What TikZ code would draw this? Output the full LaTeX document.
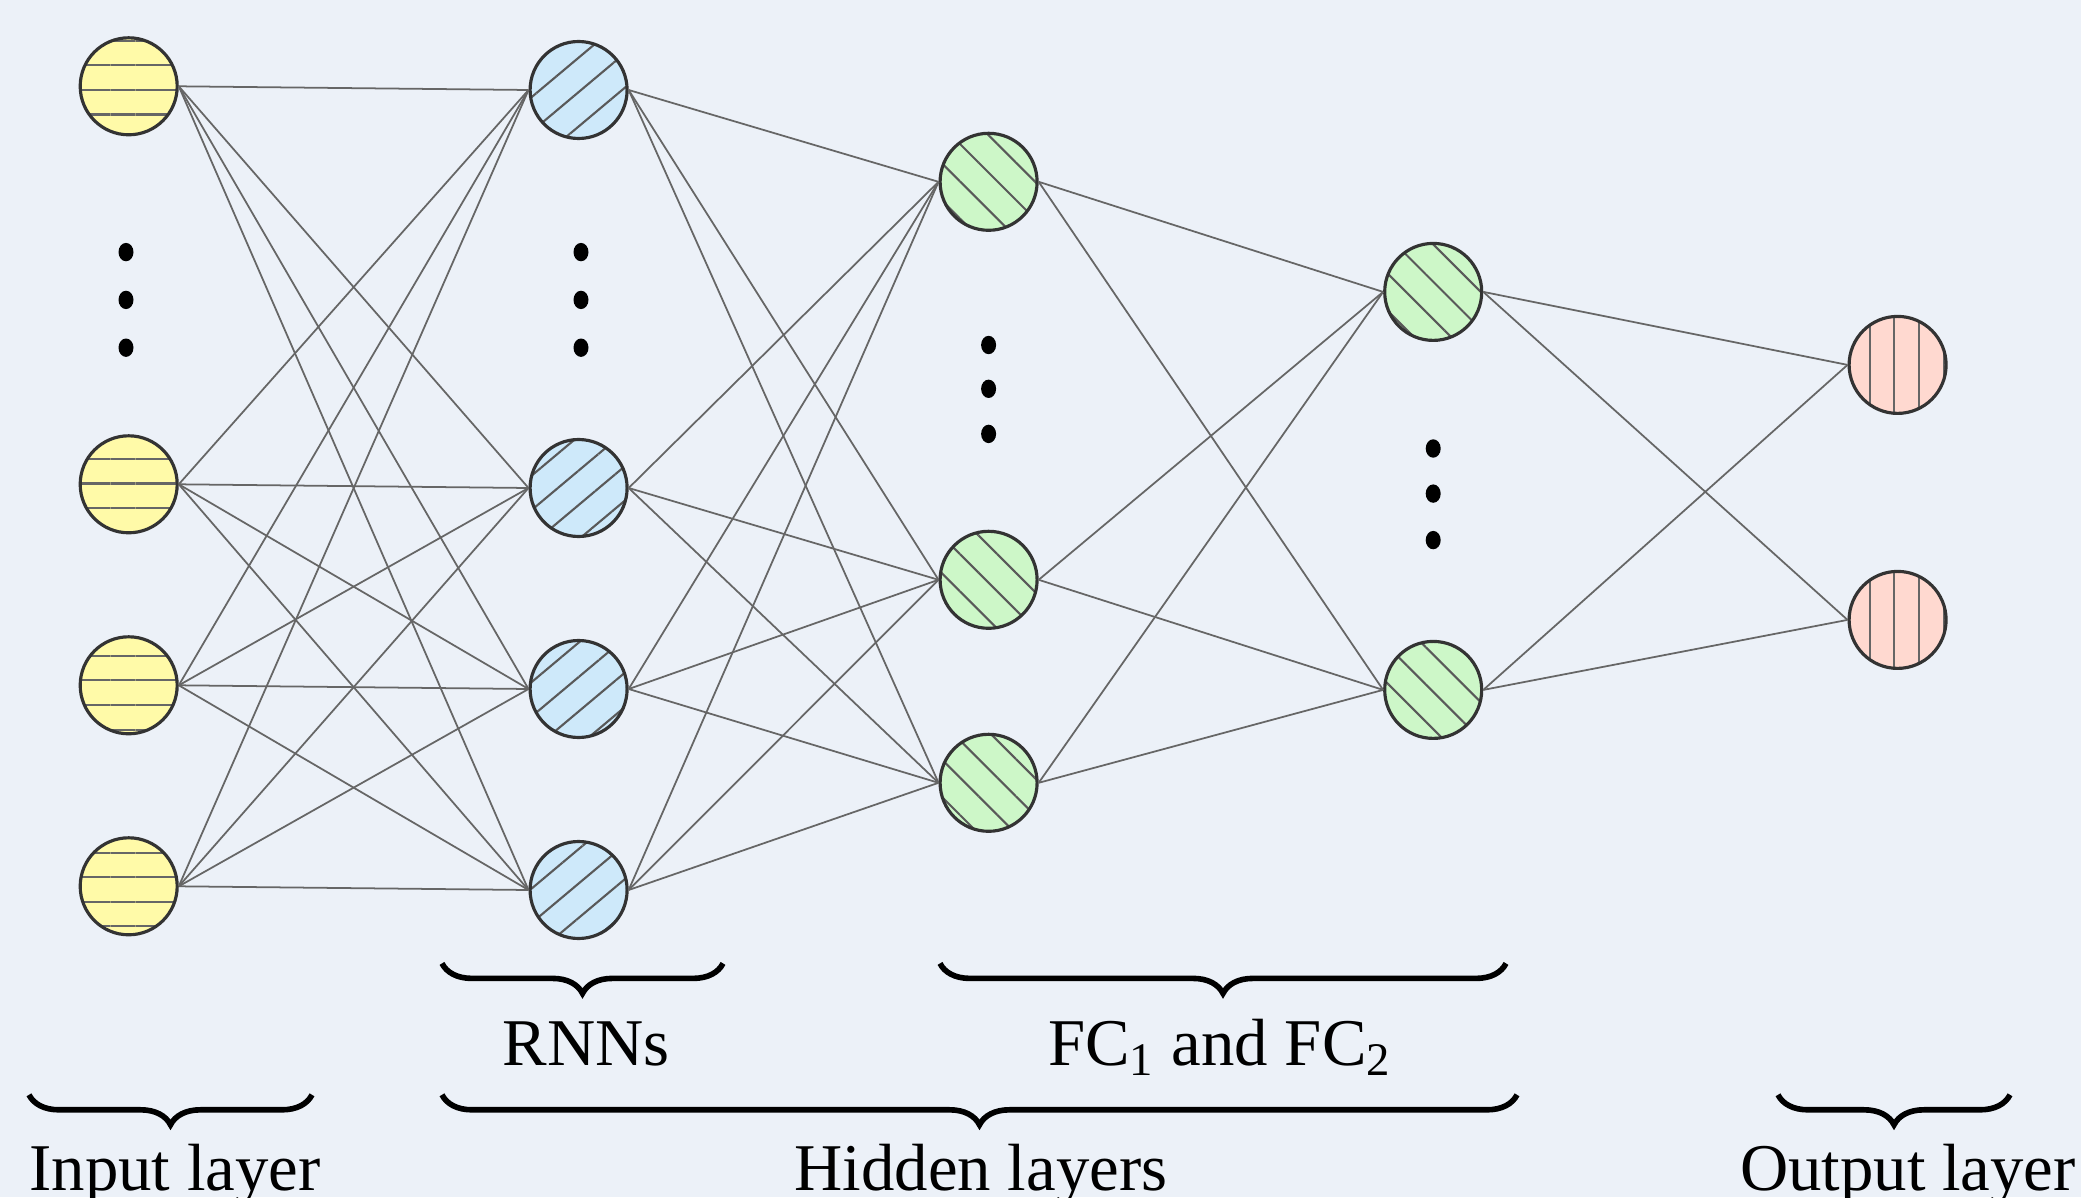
\documentclass[tikz,border=0pt]{standalone}
\usepackage{fontspec}
\setmainfont{Liberation Serif}
\usetikzlibrary{positioning,patterns.meta,decorations.pathreplacing}

\definecolor{bgcol}{RGB}{236,241,248}
\definecolor{inpcol}{RGB}{255,250,168}
\definecolor{rnncol}{RGB}{206,233,250}
\definecolor{fccol}{RGB}{205,247,200}
\definecolor{outcol}{RGB}{255,217,208}

\begin{document}
\begin{tikzpicture}[
    neuron/.style={circle, draw=black!80, line width=0.9pt, minimum size=0.97cm, inner sep=0pt},
    inp/.style={neuron, preaction={fill=inpcol},
      preaction={pattern={Lines[angle=0,distance=7pt,line width=0.6pt]}, pattern color=black!60}},
    rnn/.style={neuron, preaction={fill=rnncol},
      preaction={pattern={Lines[angle=40,distance=7.5pt,line width=0.6pt]}, pattern color=black!65}},
    fc/.style={neuron, preaction={fill=fccol},
      preaction={pattern={Lines[angle=-45,distance=7.5pt,line width=0.6pt]}, pattern color=black!65}},
    outp/.style={neuron, preaction={fill=outcol},
      preaction={pattern={Lines[angle=90,distance=7pt,line width=0.6pt]}, pattern color=black!60}},
    wire/.style={black!60, line width=0.5pt},
    brace/.style={decorate, decoration={brace, mirror, amplitude=0.3cm}, line width=1.6pt},
    lbl/.style={anchor=base, inner sep=0pt, font=\fontsize{19}{22}\selectfont},
    node distance=3.98cm, on grid
  ]
    \useasboundingbox[fill=bgcol] (0,0) rectangle (20.81,11.97);

    % input layer
    \node[inp] (i1) at (1.287,11.107) {};
    \node[inp, below=of i1] (i2) {};
    \node[inp, below=2.01cm of i2] (i3) {};
    \node[inp, below=2.01cm of i3] (i4) {};

    % recurrent layer
    \node[rnn] (r1) at (5.786,11.07) {};
    \node[rnn, below=of r1] (r2) {};
    \node[rnn, below=2.01cm of r2] (r3) {};
    \node[rnn, below=2.01cm of r3] (r4) {};

    % fully connected layers
    \node[fc] (f1) at (9.886,10.152) {};
    \node[fc, below=of f1] (f2) {};
    \node[fc, below=2.03cm of f2] (f3) {};
    \node[fc] (g1) at (14.332,9.051) {};
    \node[fc, below=of g1] (g2) {};

    % output layer
    \node[outp] (o1) at (18.976,8.321) {};
    \node[outp, below=2.55cm of o1] (o2) {};

    \foreach \a in {i1,i2,i3,i4}
      \foreach \b in {r1,r2,r3,r4}
        \draw[wire] (\a.east) -- (\b.west);
    \foreach \a in {r1,r2,r3,r4}
      \foreach \b in {f1,f2,f3}
        \draw[wire] (\a.east) -- (\b.west);
    \foreach \a in {f1,f2,f3}
      \foreach \b in {g1,g2}
        \draw[wire] (\a.east) -- (\b.west);
    \foreach \a in {g1,g2}
      \foreach \b in {o1,o2}
        \draw[wire] (\a.east) -- (\b.west);

    % vertical dots
    \foreach \y in {9.449,8.971,8.493} {
      \fill (1.26,\y) ellipse (0.075 and 0.092);
      \fill (5.81,\y) ellipse (0.075 and 0.092);
    }
    \foreach \y in {8.52,8.082,7.631}
      \fill (9.886,\y) ellipse (0.075 and 0.092);
    \foreach \y in {7.485,7.034,6.569}
      \fill (14.332,\y) ellipse (0.075 and 0.092);

    % braces and captions
    \draw[brace] (4.42,2.336) -- (7.23,2.336);
    \draw[brace] (9.40,2.336) -- (15.06,2.336);
    \draw[brace] (0.29,1.022) -- (3.12,1.022);
    \draw[brace] (4.42,1.022) -- (15.17,1.022);
    \draw[brace] (17.78,1.022) -- (20.10,1.022);
    \node[lbl] (rnnlbl) at (5.86,1.314) {RNNs};
    \node[lbl] (fclbl) at (12.20,1.314) {FC\textsubscript{1} and FC\textsubscript{2}};
    \node[lbl] (inlbl) at (1.75,0.07) {Input layer};
    \node[lbl] (hidlbl) at (9.81,0.07) {Hidden layers};
    \node[lbl] (outlbl) at (19.08,0.07) {Output layer};
\end{tikzpicture}
\end{document}
